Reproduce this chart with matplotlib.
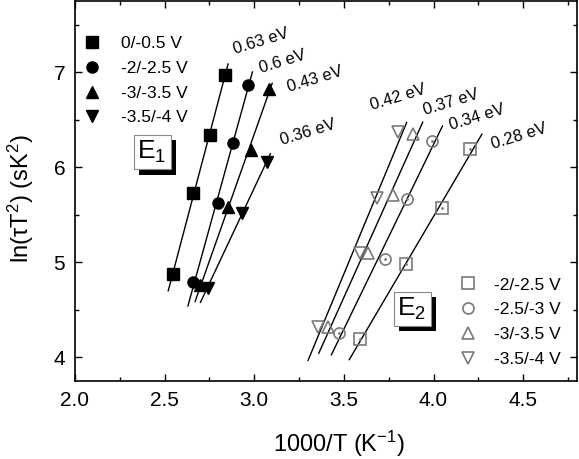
import numpy as np
import matplotlib
matplotlib.use('Agg')
import matplotlib.pyplot as plt
from matplotlib.lines import Line2D
from matplotlib import patheffects as pe

plt.rcParams['font.family'] = ['Liberation Sans', 'DejaVu Sans']
plt.rcParams['mathtext.fontset'] = 'custom'
plt.rcParams['mathtext.rm'] = 'Liberation Sans'
plt.rcParams['mathtext.it'] = 'Liberation Sans:italic'

# E1 levels (filled markers)
e1_labels = ['0/-0.5 V', '-2/-2.5 V', '-3/-3.5 V', '-3.5/-4 V']
e1_markers = ['s', 'o', '^', 'v']
e1_x = [[2.547, 2.66, 2.753, 2.837],
        [2.66, 2.80, 2.88, 2.965],
        [2.70, 2.855, 2.98, 3.08],
        [2.74, 2.93, 3.07]]
e1_y = [[4.88, 5.73, 6.34, 6.97],
        [4.79, 5.62, 6.25, 6.87],
        [4.76, 5.58, 6.18, 6.82],
        [4.73, 5.52, 6.05]]
e1_fit_x = [(2.52, 2.854), (2.63, 2.99), (2.67, 3.10), (2.70, 3.09)]
e1_energy = ['0.63 eV', '0.6 eV', '0.43 eV', '0.36 eV']
e1_label_pos = [(3.04, 7.32), (3.16, 7.11), (3.34, 6.92), (3.30, 6.37)]

# E2 levels (open markers)
e2_labels = ['-2/-2.5 V', '-2.5/-3 V', '-3/-3.5 V', '-3.5/-4 V']
e2_markers = ['s', 'o', '^', 'v']
e2_x = [[3.59, 3.847, 4.048, 4.204],
        [3.47, 3.73, 3.853, 3.99],
        [3.41, 3.635, 3.775, 3.886],
        [3.356, 3.59, 3.685, 3.80]]
e2_y = [[4.19, 4.98, 5.57, 6.19],
        [4.26, 5.03, 5.67, 6.28],
        [4.32, 5.10, 5.71, 6.35],
        [4.32, 5.10, 5.68, 6.37]]
e2_fit_x = [(3.53, 4.27), (3.43, 4.05), (3.36, 3.94), (3.30, 3.85)]
e2_energy = ['0.28 eV', '0.34 eV', '0.37 eV', '0.42 eV']
e2_label_pos = [(4.48, 6.33), (4.24, 6.53), (4.10, 6.68), (3.80, 6.74)]

fig = plt.figure(figsize=(5.79, 4.59), dpi=100)
ax = fig.add_axes([0.1295, 0.170, 0.867, 0.828])

gray = '#7a7a7a'
for xs, ys, m, (x0, x1) in zip(e1_x, e1_y, e1_markers, e1_fit_x):
    k, b = np.polyfit(xs, ys, 1)
    ax.plot([x0, x1], [k * x0 + b, k * x1 + b], color='black', lw=1.0, zorder=2)
    ax.plot(xs, ys, ls='none', marker=m, ms=8, color='black', zorder=3)

for xs, ys, m, (x0, x1) in zip(e2_x, e2_y, e2_markers, e2_fit_x):
    k, b = np.polyfit(xs, ys, 1)
    ax.plot([x0, x1], [k * x0 + b, k * x1 + b], color='black', lw=1.0, zorder=2)
    ax.plot(xs, ys, ls='none', marker=m, ms=8, mfc='none', mec=gray, mew=1.2, zorder=3)
    if m in ('s', 'o'):
        ax.plot(xs, ys, ls='none', marker='.', ms=2, color=gray, zorder=3)

for txt, (x, y) in zip(e1_energy + e2_energy, e1_label_pos + e2_label_pos):
    ax.text(x, y, txt, fontsize=12, rotation=17, ha='center', va='center')

# legends
h1 = [Line2D([], [], ls='none', marker=m, ms=8, color='black') for m in e1_markers]
leg1 = ax.legend(h1, e1_labels, loc='upper left', bbox_to_anchor=(-0.005, 0.935),
                 frameon=False, fontsize=12.5, handlelength=1.0, handletextpad=1.2,
                 labelspacing=0.55, borderaxespad=0.2)
ax.add_artist(leg1)
h2 = [Line2D([], [], ls='none', marker=m, ms=8, mfc='none', mec=gray, mew=1.2) for m in e2_markers]
ax.legend(h2, e2_labels, loc='upper left', bbox_to_anchor=(0.745, 0.300),
          frameon=False, fontsize=12.5, handlelength=1.0, handletextpad=1.0,
          labelspacing=0.55, borderaxespad=0.2)

# E1 / E2 boxes with shadow
for txt, (x, y) in [('E$_1$', (2.43, 6.16)), ('E$_2$', (3.88, 4.51))]:
    t = ax.text(x, y, txt, fontsize=19, ha='center', va='center', zorder=4,
                bbox=dict(boxstyle='square,pad=0.15', fc='white', ec='#888888', lw=0.8))
    t.get_bbox_patch().set_path_effects([
        pe.SimplePatchShadow(offset=(4, -4), shadow_rgbFace='black', alpha=1.0),
        pe.Normal()])

ax.set_xlim(2.0, 4.8)
ax.set_ylim(3.75, 7.75)
ax.set_xticks([2.0, 2.5, 3.0, 3.5, 4.0, 4.5])
ax.set_xticks(np.arange(2.25, 4.8, 0.5), minor=True)
ax.set_yticks([4, 5, 6, 7])
ax.set_yticks([4.5, 5.5, 6.5, 7.5], minor=True)
ax.set_xticklabels(['2.0', '2.5', '3.0', '3.5', '4.0', '4.5'])
ax.tick_params(which='both', direction='in', top=True, right=True, labelsize=15, width=1.0)
ax.tick_params(which='major', length=5, pad=7)
ax.tick_params(which='minor', length=3)
for s in ax.spines.values():
    s.set_linewidth(1.2)

ax.set_xlabel('1000/T (K$^{-1}$)', fontsize=17)
ax.set_ylabel('ln(\u03c4T$^2$) (sK$^2$)', fontsize=17)
ax.xaxis.set_label_coords(0.525, -0.125)
ax.yaxis.set_label_coords(-0.078, 0.48)

fig.savefig('out.png', dpi=100)
